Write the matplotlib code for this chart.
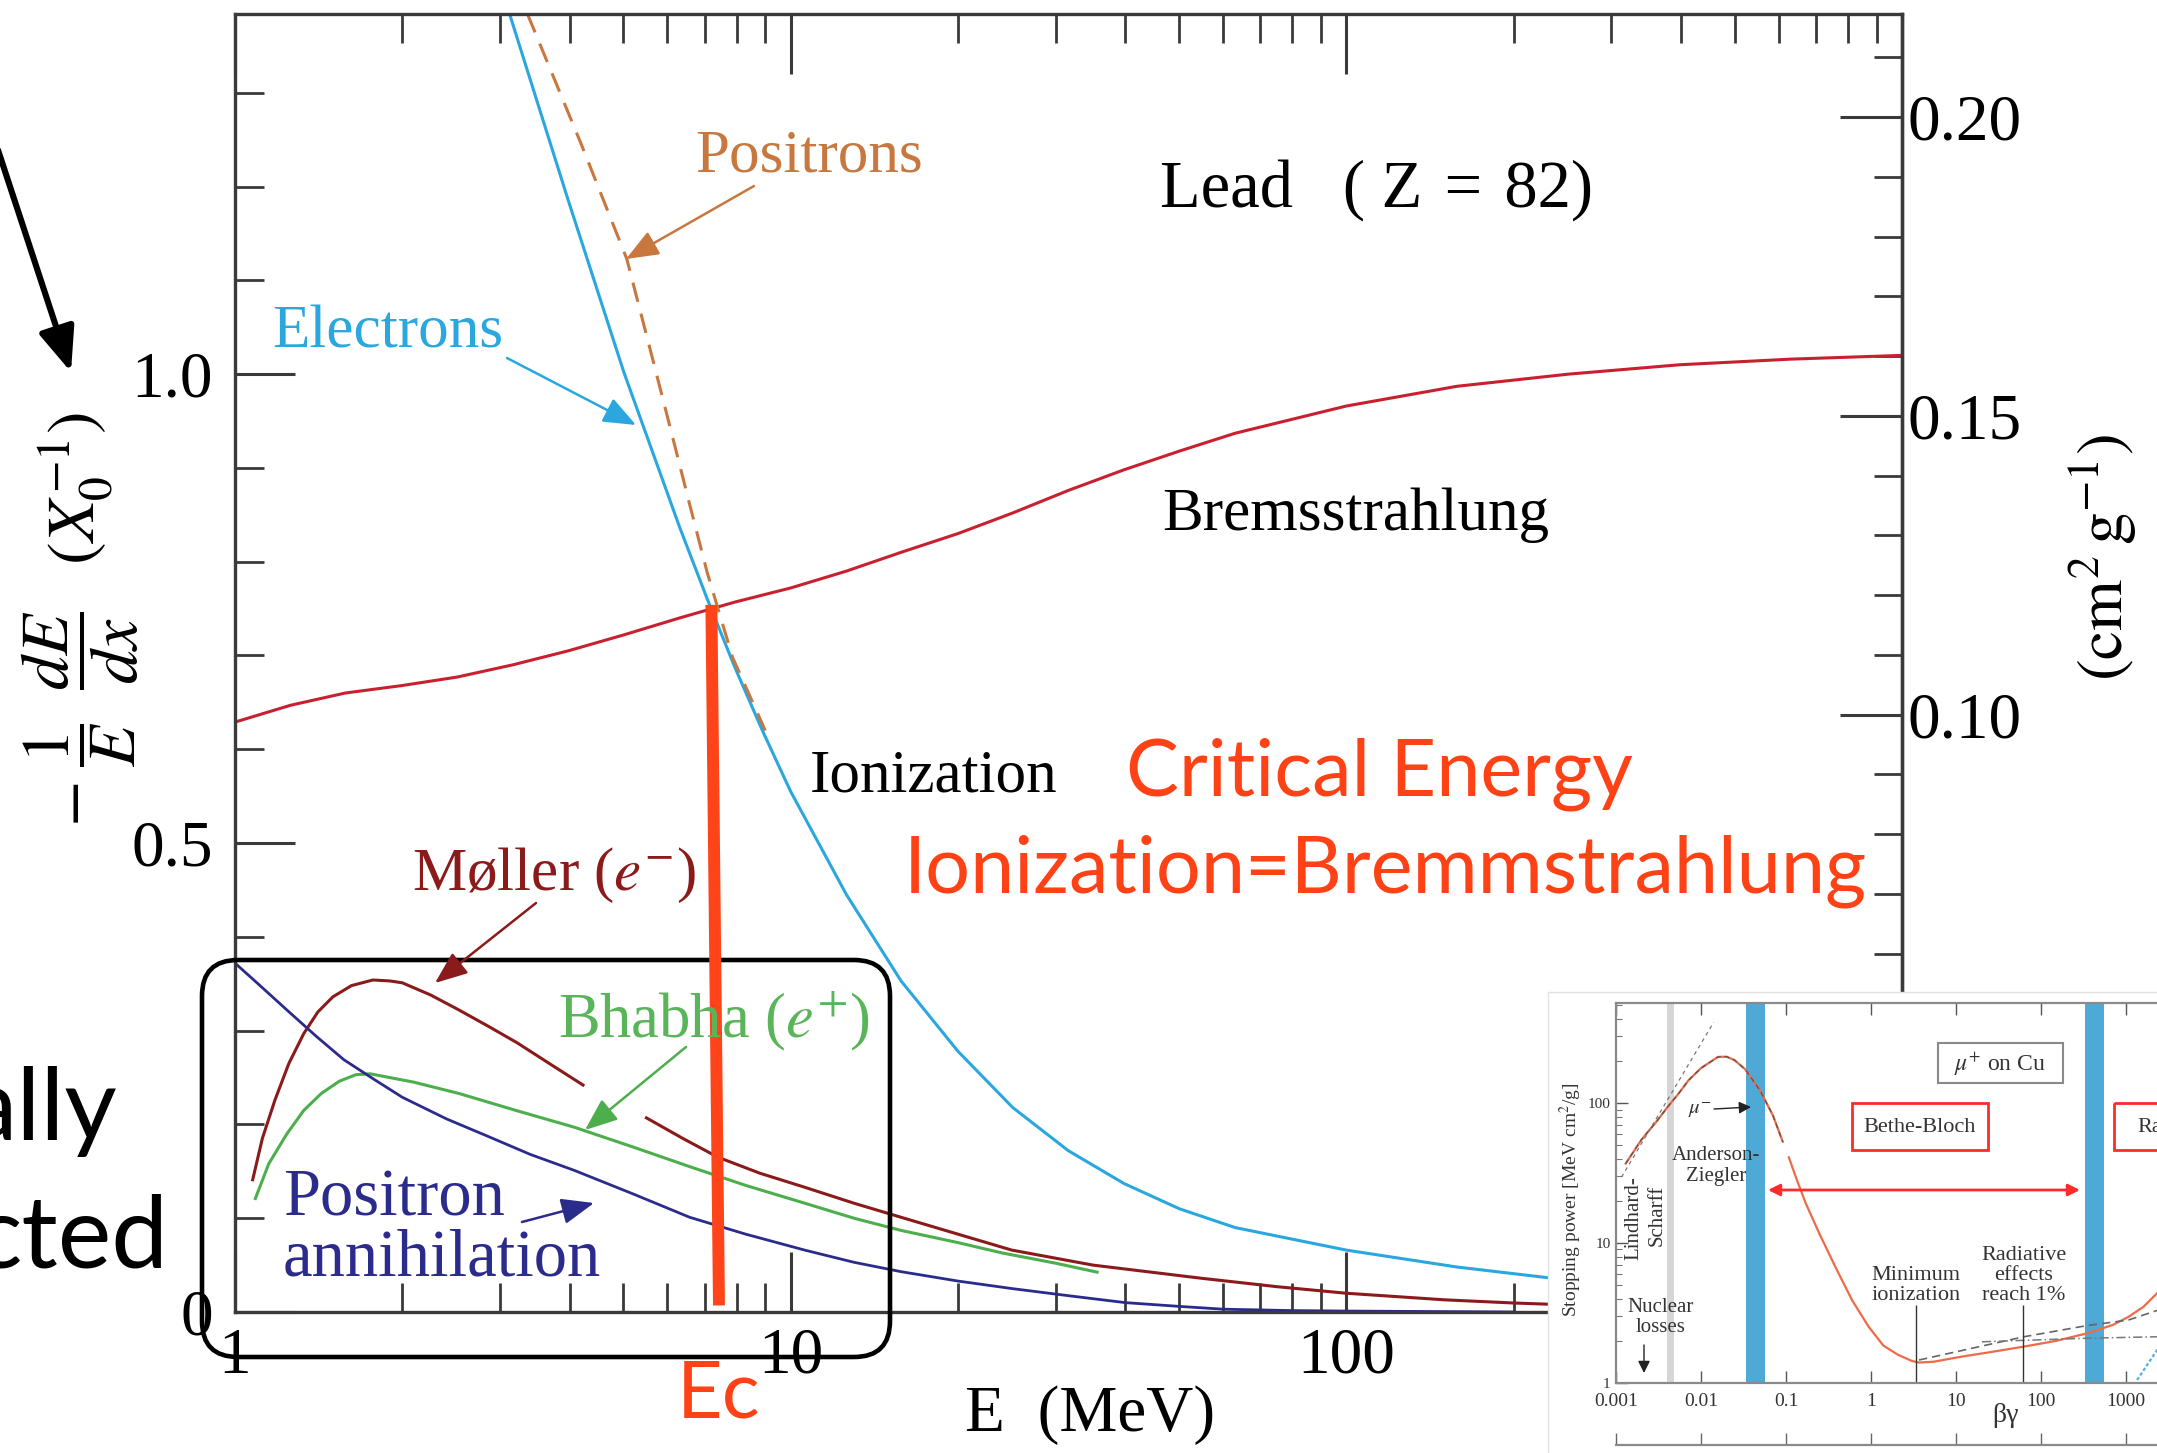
import numpy as np
import matplotlib
matplotlib.use('Agg')
import matplotlib.pyplot as plt
from matplotlib.patches import Rectangle, FancyBboxPatch
from matplotlib.ticker import (LogLocator, MultipleLocator, FuncFormatter,
                               NullFormatter, NullLocator)

W, H = 2157, 1453
DPI = 100

plt.rcParams['font.family'] = ['Liberation Serif', 'DejaVu Serif']
plt.rcParams['mathtext.fontset'] = 'stix'

# ---------------- main chart data (E in MeV, -1/E dE/dx in X0^-1) -------------
brems_E = [1, 1.26, 1.58, 2.0, 2.51, 3.16, 3.98, 5.01, 6.31, 7.94, 10, 12.6, 15.8,
           20, 25.1, 31.6, 39.8, 50.1, 63.1, 100, 158, 251, 398, 631, 1000]
brems_y = [0.629, 0.647, 0.660, 0.668, 0.677, 0.690, 0.705, 0.722, 0.740, 0.757,
           0.772, 0.790, 0.810, 0.830, 0.852, 0.876, 0.898, 0.918, 0.937, 0.966,
           0.987, 1.000, 1.010, 1.016, 1.020]

elec_E = [3.12, 3.98, 5.01, 6.31, 7.08, 7.94, 8.91, 10, 12.6, 15.8, 20, 25.1, 31.6,
          39.8, 50.1, 63.1, 100, 158, 251, 398, 1000]
elec_y = [1.384, 1.185, 1.002, 0.837, 0.760, 0.687, 0.619, 0.555, 0.445, 0.353,
          0.278, 0.218, 0.172, 0.137, 0.110, 0.090, 0.066, 0.048, 0.034, 0.024, 0.012]

posi_E = [3.36, 4.2, 5.07, 5.6, 6.1, 6.6, 7.08, 7.86, 9.0]
posi_y = [1.384, 1.245, 1.123, 1.024, 0.938, 0.858, 0.788, 0.698, 0.620]

moller_E = [1.076, 1.12, 1.18, 1.25, 1.33, 1.41, 1.50, 1.62, 1.77, 1.9, 2.0, 2.25,
            2.53, 2.85, 3.22, 3.7, 4.23, np.nan,
            5.5, 6.4, 7.4, 8.8, 10.6, 13, 15.8, 20, 25, 35, 54.8, 75, 100, 150, 200, 300]
moller_y = [0.141, 0.185, 0.226, 0.265, 0.297, 0.320, 0.336, 0.348, 0.354, 0.353,
            0.351, 0.338, 0.322, 0.305, 0.287, 0.264, 0.242, np.nan,
            0.207, 0.185, 0.165, 0.148, 0.133, 0.116, 0.101, 0.083, 0.066, 0.050,
            0.036, 0.027, 0.020, 0.013, 0.0096, 0.006]

bhabha_E = [1.088, 1.15, 1.24, 1.33, 1.43, 1.54, 1.65, 1.75, 1.86, 2.1, 2.53, 3.2,
            4.08, 5.2, 6.58, 8.3, 10.6, 13, 15.8, 20, 24, 30, 35.6]
bhabha_y = [0.121, 0.158, 0.190, 0.215, 0.233, 0.246, 0.253, 0.254, 0.251, 0.245,
            0.233, 0.215, 0.197, 0.176, 0.155, 0.135, 0.116, 0.100, 0.087, 0.074,
            0.063, 0.052, 0.0425]

annih_E = [1.0, 1.1, 1.24, 1.4, 1.57, 1.78, 2.0, 2.4, 2.86, 3.4, 4.08, 5.2, 6.58,
           8.3, 10.6, 13, 15.8, 20, 25, 32, 40, 50, 60, 80, 100, 200]
annih_y = [0.372, 0.350, 0.322, 0.294, 0.269, 0.248, 0.229, 0.206, 0.187, 0.168,
           0.151, 0.126, 0.101, 0.083, 0.066, 0.053, 0.043, 0.033, 0.025, 0.017,
           0.010, 0.006, 0.003, 0.0015, 0.001, 0.0]

Ec_E = [7.2, 7.43]
Ec_y = [0.754, 0.007]

X0_LEAD = 6.37  # g/cm^2, right axis = left / X0

# ---------------- inset data (mu+ on Cu) ----------------
mu_bg = [0.0013, 0.002, 0.003, 0.00405, 0.0055, 0.00715, 0.01, 0.0158, 0.02, 0.0248,
         0.033, 0.0492, 0.07, 0.0916, np.nan,
         0.108, 0.135, 0.171, 0.25, 0.379, 0.6, 0.94, 1.4, 2.08, 3.0, 3.67, 5.5,
         11.4, 25, 62.8, 150, 344, 700, 1070, 1600, 2320]
mu_S = [37, 55, 74, 94, 118, 146, 178, 214, 215, 203, 175, 124, 82, 53, np.nan,
        41, 28, 19.2, 11.5, 6.8, 3.9, 2.52, 1.85, 1.59, 1.44, 1.40, 1.42,
        1.54, 1.66, 1.82, 2.0, 2.26, 2.6, 2.97, 3.5, 4.38]
lind_bg = [0.00116, 0.0141]
lind_S = [29.6, 379]
az_bg = [0.0013, 0.002, 0.003, 0.00405, 0.0055, 0.00715, 0.01, 0.0158, 0.02, 0.0248,
         0.033, 0.0492, 0.07, 0.0916]
az_S = [37, 55, 74, 94, 118, 146, 178, 214, 215, 203, 175, 124, 82, 53]
hi_dash_bg = [3.67, 11.4, 62.8, 344, 1070, 2320]
hi_dash_S = [1.46, 1.70, 2.14, 2.57, 2.82, 3.3]
dashdot_bg = [20.2, 344, 2320]
dashdot_S = [1.97, 2.09, 2.14]
blue_dot_bg = [1350, 2320, 4000]
blue_dot_S = [1.05, 1.72, 3.2]
band1 = [0.0342, 0.0564]
band2 = [325, 555]
gray_band = [0.0040, 0.0048]
marker_bg = [3.4, 62]
marker_top = 3.6

# ---------------- figure ----------------
fig = plt.figure(figsize=(W / DPI, H / DPI), dpi=DPI)
fig.patch.set_facecolor('white')


def fr(x0, y0, x1, y1):
    return [x0 / W, (H - y1) / H, (x1 - x0) / W, (y1 - y0) / H]


ax = fig.add_axes(fr(235, 14, 1902, 1312), zorder=0)
ax.set_xscale('log')
ax.set_xlim(1, 1000)
ax.set_ylim(0, 1.384)

C_BREMS = '#c8202f'
C_ELEC = '#2aa7df'
C_POSI = '#c8773f'
C_MOLL = '#8b1a1a'
C_BHAB = '#4cae4c'
C_ANNI = '#2b2b8c'
C_SLIDE = '#ff4216'

ax.plot(brems_E, brems_y, color=C_BREMS, lw=2.2)
ax.plot(elec_E, elec_y, color=C_ELEC, lw=2.2)
ax.plot(posi_E, posi_y, color=C_POSI, lw=2.2, ls=(0, (6.5, 4)))
ax.plot(moller_E, moller_y, color=C_MOLL, lw=2.2)
ax.plot(bhabha_E, bhabha_y, color=C_BHAB, lw=2.2)
ax.plot(annih_E, annih_y, color=C_ANNI, lw=2.0)

spine_c = '#3a3a3a'
for s in ax.spines.values():
    s.set_color(spine_c)
    s.set_linewidth(2.4)

ax.xaxis.set_major_locator(LogLocator(base=10, numticks=10))
ax.xaxis.set_minor_locator(LogLocator(base=10, subs=range(2, 10), numticks=20))
ax.xaxis.set_major_formatter(FuncFormatter(lambda v, p: f'{v:g}'))
ax.xaxis.set_minor_formatter(NullFormatter())
ax.yaxis.set_major_locator(MultipleLocator(0.5))
ax.yaxis.set_minor_locator(MultipleLocator(0.1))
ax.yaxis.set_major_formatter(FuncFormatter(lambda v, p: '0' if abs(v) < 1e-9 else f'{v:.1f}'))

ax.tick_params(which='major', direction='in', length=43, width=2.2, color=spine_c,
               labelsize=47, top=True, right=False)
ax.tick_params(which='minor', direction='in', length=21, width=2.0, color=spine_c,
               top=True, right=False)
ax.tick_params(axis='x', which='major', pad=11)
ax.tick_params(axis='y', which='major', pad=16)

sec = ax.secondary_yaxis('right', functions=(lambda y: y / X0_LEAD, lambda y: y * X0_LEAD))
sec.yaxis.set_major_locator(MultipleLocator(0.05))
sec.yaxis.set_minor_locator(MultipleLocator(0.01))
sec.yaxis.set_major_formatter(FuncFormatter(lambda v, p: f'{v:.2f}'))
sec.tick_params(which='major', direction='in', length=45, width=2.2, color=spine_c,
                labelsize=47, pad=4)
sec.tick_params(which='minor', direction='in', length=20, width=2.0, color=spine_c)
sec.spines['right'].set_color(spine_c)
sec.spines['right'].set_linewidth(2.4)

# ---------------- overlay for main annotations (pixel coords) -------------
ov1 = fig.add_axes([0, 0, 1, 1], zorder=1)
ov1.set_xlim(0, W)
ov1.set_ylim(H, 0)
ov1.axis('off')
ov1.patch.set_visible(False)


def txt(o, x, y, s, size, color='black', ha='left', va='baseline', family=None, rot=0):
    kw = {}
    if family is not None:
        kw['family'] = family
    o.text(x, y, s, fontsize=size, color=color, ha=ha, va=va, rotation=rot, **kw)


def arrow(o, tail, tip, color, lw=1.8, hl=1.0, hw=0.4, ms=20):
    o.annotate('', xy=tip, xytext=tail,
               arrowprops=dict(arrowstyle=f'-|>,head_length={hl},head_width={hw}',
                               color=color, lw=lw, mutation_scale=ms,
                               shrinkA=0, shrinkB=0))


txt(ov1, 695, 172, 'Positrons', 44, C_POSI)
arrow(ov1, (754, 186), (626, 259), C_POSI)
txt(ov1, 1160, 207, 'Lead   ( Z\u2004=\u200482)', 48)
txt(ov1, 272, 348, 'Electrons', 44, C_ELEC)
arrow(ov1, (507, 358), (636, 425), C_ELEC)
txt(ov1, 1162, 530, 'Bremsstrahlung', 44)
txt(ov1, 810, 792, 'Ionization', 44)
txt(ov1, 412, 890, r'Møller ($e^{-}$)', 44, C_MOLL)
arrow(ov1, (536, 903), (435, 983), C_MOLL)
txt(ov1, 558, 1037, r'Bhabha ($e^{+}$)', 45, '#5ab55a')
arrow(ov1, (686, 1047), (585, 1130), C_BHAB)
txt(ov1, 283, 1215, 'Positron', 48, C_ANNI)
txt(ov1, 283, 1275, 'annihilation', 48, C_ANNI)
arrow(ov1, (522, 1222), (594, 1203), C_ANNI)

txt(ov1, 80, 620,
    r'$-\;\dfrac{1}{E}\;\;\dfrac{dE}{dx}\;\;\;(X_{0}^{-1})$',
    49, ha='center', va='center', rot=90)
txt(ov1, 2103, 557, r'$(\mathrm{cm}^{2}\,\mathrm{g}^{-1})$', 47, ha='center', va='center',
    rot=90)
txt(ov1, 1090, 1415, 'E  (MeV)', 47, ha='center', va='center')

# slide annotations
SANS = ['Lato', 'DejaVu Sans']
txt(ov1, 1126, 795, 'Critical Energy', 57, C_SLIDE, family=SANS)
txt(ov1, 904, 892, 'Ionization=Bremmstrahlung', 57, C_SLIDE, family=SANS)
txt(ov1, 677, 1417, 'Ec', 57, C_SLIDE, family=SANS)
txt(ov1, 117, 1140, 'ally', 73, 'black', ha='right', family=SANS)
txt(ov1, 169, 1268, 'cted', 73, 'black', ha='right', family=SANS)

ov1.plot(Ec_E, Ec_y, color='#ff4419', lw=8.6, solid_capstyle='butt', transform=ax.transData)

ov1.add_patch(FancyBboxPatch((202, 960), 688, 397,
                             boxstyle='round,pad=0,rounding_size=36',
                             fc='none', ec='black', lw=3.3))
arrow(ov1, (-2, 150), (71, 372), 'black', lw=4.4, hl=1.35, hw=0.55, ms=20)

# ---------------- inset background ----------------
ov2 = fig.add_axes([0, 0, 1, 1], zorder=2)
ov2.set_xlim(0, W)
ov2.set_ylim(H, 0)
ov2.axis('off')
ov2.patch.set_visible(False)
ov2.add_patch(Rectangle((1548, 992), W - 1548 + 5, H - 992 + 5, fc='white', ec='#e2e2e2', lw=1.0))

# ---------------- inset axes ----------------
IL, IR = 1616, 1616 + 8 * 85
axi = fig.add_axes(fr(IL, 1003, IR, 1383), zorder=3)
axi.set_xscale('log')
axi.set_yscale('log')
axi.set_xlim(1e-3, 1e5)
axi.set_ylim(1, 520)
axi.axvspan(*gray_band, color='#d6d6d6', lw=0)
axi.axvspan(*band1, color='#4fa9d6', lw=0)
axi.axvspan(*band2, color='#4fa9d6', lw=0)
axi.plot(mu_bg, mu_S, color='#ee6a48', lw=1.6)
axi.plot(az_bg, az_S, color='#555555', lw=0.9, ls=(0, (4, 3)))
axi.plot(lind_bg, lind_S, color='#777777', lw=0.9, ls=(0, (3, 3)))
axi.plot(hi_dash_bg, hi_dash_S, color='#666666', lw=1.2, ls=(0, (5, 3)))
axi.plot(dashdot_bg, dashdot_S, color='#777777', lw=1.1, ls=(0, (6, 2, 1, 2)))
axi.plot(blue_dot_bg, blue_dot_S, color='#5ab0e0', lw=1.6, ls=(0, (1.5, 1)))
axi.vlines(marker_bg, 1, marker_top, color='#333333', lw=1.0)

for s in axi.spines.values():
    s.set_color('#8a8a8a')
    s.set_linewidth(1.6)
axi.xaxis.set_major_locator(LogLocator(base=10, numticks=20))
axi.xaxis.set_minor_locator(NullLocator())
axi.xaxis.set_major_formatter(FuncFormatter(lambda v, p: f'{v:g}'))
axi.yaxis.set_major_locator(LogLocator(base=10, numticks=10))
axi.yaxis.set_minor_locator(LogLocator(base=10, subs=range(2, 10), numticks=20))
axi.yaxis.set_major_formatter(FuncFormatter(lambda v, p: f'{v:g}'))
axi.yaxis.set_minor_formatter(NullFormatter())
axi.tick_params(which='major', direction='in', length=8.5, width=1.0, color='#555555',
                labelsize=14, top=True, labelcolor='#333333')
axi.tick_params(which='minor', direction='in', length=4, width=0.8, color='#777777')
axi.tick_params(axis='x', pad=7)
axi.tick_params(axis='y', pad=4, labelsize=11)

axb = fig.add_axes(fr(IL, 1420, IR, 1445), zorder=3)
axb.set_xscale('log')
axb.set_xlim(1e-3, 1e5)
axb.patch.set_visible(False)
for k in ['top', 'left', 'right']:
    axb.spines[k].set_visible(False)
axb.spines['bottom'].set_color('#8a8a8a')
axb.spines['bottom'].set_linewidth(1.6)
axb.xaxis.set_major_locator(LogLocator(base=10, numticks=20))
axb.xaxis.set_minor_locator(NullLocator())
axb.set_yticks([])
axb.tick_params(axis='x', direction='in', length=8.5, width=1.0, color='#666666',
                labelbottom=False)

# ---------------- inset annotations ----------------
ov3 = fig.add_axes([0, 0, 1, 1], zorder=4)
ov3.set_xlim(0, W)
ov3.set_ylim(H, 0)
ov3.axis('off')
ov3.patch.set_visible(False)

ov3.add_patch(Rectangle((1938, 1043), 125, 40, fc='none', ec='#8a8a8a', lw=1.5))
txt(ov3, 2000, 1064, r'$\mu^{+}$ on Cu', 17, '#333333', ha='center', va='center')
ov3.add_patch(Rectangle((1852, 1103), 136, 47, fc='none', ec='#ff2a2a', lw=2.0))
txt(ov3, 1920, 1127, 'Bethe-Bloch', 16, '#333333', ha='center', va='center')
ov3.add_patch(Rectangle((2114, 1103), 120, 47, fc='none', ec='#ff2a2a', lw=2.0))
txt(ov3, 2137, 1127, 'Radiative', 16, '#333333', ha='left', va='center')
txt(ov3, 1716, 1155, 'Anderson-', 15, '#333333', ha='center', va='center')
txt(ov3, 1716, 1177, 'Ziegler', 15, '#333333', ha='center', va='center')
txt(ov3, 1700, 1110, r'$\mu^{-}$', 15, '#333333', ha='center', va='center')
arrow(ov3, (1714, 1109), (1751, 1107), '#222222', lw=1.0, hl=0.6, hw=0.3, ms=12)
txt(ov3, 1634, 1218, 'Lindhard-', 15, '#333333', ha='center', va='center', rot=90)
txt(ov3, 1657, 1215, 'Scharff', 15, '#333333', ha='center', va='center', rot=90)
txt(ov3, 1661, 1308, 'Nuclear', 15, '#333333', ha='center', va='center')
txt(ov3, 1661, 1328, 'losses', 15, '#333333', ha='center', va='center')
arrow(ov3, (1644, 1345), (1644, 1373), '#222222', lw=1.0, hl=0.6, hw=0.3, ms=12)
txt(ov3, 1916, 1275, 'Minimum', 16, '#333333', ha='center', va='center')
txt(ov3, 1916, 1295, 'ionization', 16, '#333333', ha='center', va='center')
txt(ov3, 2024, 1255, 'Radiative', 16, '#333333', ha='center', va='center')
txt(ov3, 2024, 1275, 'effects', 16, '#333333', ha='center', va='center')
txt(ov3, 2024, 1295, 'reach 1%', 16, '#333333', ha='center', va='center')
ov3.annotate('', xy=(2080, 1190), xytext=(1768, 1190),
             arrowprops=dict(arrowstyle='<|-|>,head_length=0.5,head_width=0.25',
                             color='#ff2a2a', lw=2.0, mutation_scale=14,
                             shrinkA=0, shrinkB=0))
txt(ov3, 1571, 1200, r'Stopping power [MeV cm$^2$/g]', 14, '#333333', ha='center',
    va='center', rot=90)
txt(ov3, 2005, 1415, 'βγ', 20, '#333333', ha='center', va='center')

fig.savefig('out.png', dpi=DPI, facecolor='white')
